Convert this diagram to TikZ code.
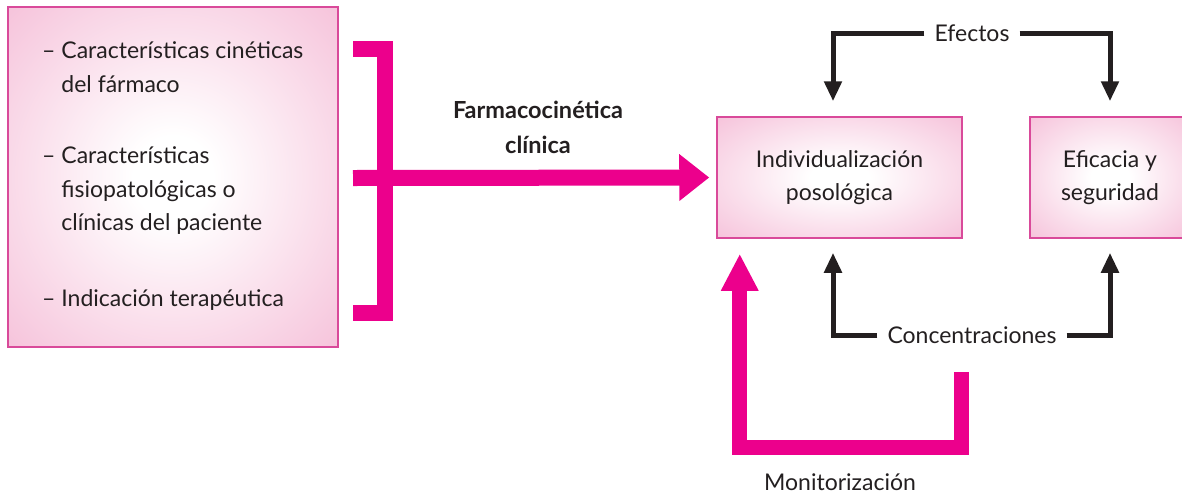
\documentclass[tikz,border=0pt]{standalone}
\usepackage{fontspec}
\setmainfont{Lato}
\usetikzlibrary{arrows.meta}
\definecolor{mag}{HTML}{EC008C}
\definecolor{boxpink}{HTML}{F4B6D3}
\definecolor{boxline}{HTML}{D94A9A}
\definecolor{ink}{HTML}{231F20}
\pgfdeclareradialshading{pinkglow}{\pgfpoint{0bp}{0bp}}{color(0bp)=(white);color(6bp)=(white);color(42bp)=(boxpink);color(70bp)=(boxpink)}
\begin{document}
\begin{tikzpicture}[x=1pt,y=-1pt,
  box/.style={draw=boxline,line width=1.5pt,shading=pinkglow,rectangle,inner sep=0pt,
    align=center,font=\fontsize{23}{33}\selectfont,text=ink},
  itemtxt/.style={align=left,font=\fontsize{23}{33.5}\selectfont,text=ink,inner sep=0pt,anchor=west},
  lbl/.style={font=\fontsize{23}{26}\selectfont,text=ink,inner xsep=10pt,inner ysep=2pt},
  magline/.style={draw=mag,line width=16pt,line join=miter},
  blkarrow/.style={draw=ink,line width=5pt,line join=miter,-{Triangle[width=17pt,length=20pt]}},
]
\clip (0,0) rectangle (1182,496);
\fill[white] (0,0) rectangle (1182,496);
% left box
\node[box,minimum width=330pt,minimum height=340pt] (src) at (173,177) {};
\node[itemtxt] (i1) at (42,67) {–~Características cinéticas\\\hphantom{–~}del fármaco};
\node[itemtxt] (i2) at (42,191) {–~Características\\\hphantom{–~}fisiopatológicas o\\\hphantom{–~}clínicas del paciente};
\node[itemtxt] (i3) at (42,300) {–~Indicación terapéutica};
% right boxes
\node[box,minimum width=245pt,minimum height=121pt] (mid) at (839.5,177.5) {Individualización\\posológica};
\node[box,minimum width=160pt,minimum height=121pt] (eff) at (1110,177.5) {Eficacia y\\seguridad};
% bracket and main arrow
\coordinate (bt) at (353,48.5);
\coordinate (bb) at (353,312.5);
\coordinate (bm) at (353,178);
\draw[magline] (bt) -- (384.5,48.5) |- (bb);
\draw[magline,-{Triangle[width=45pt,length=30pt]},shorten >=7pt] (bm) -- (mid.west);
\node[font=\bfseries\fontsize{23.5}{35}\selectfont,align=center,text=ink] (fk) at (538,127) {Farmacocinética\\clínica};
% effects
\node[lbl] (efl) at (972,33) {Efectos};
\draw[blkarrow] (efl.west) -| ([xshift=-6.5pt,yshift=15pt]mid.north);
\draw[blkarrow] (efl.east) -| ([yshift=15pt]eff.north);
% concentrations
\node[lbl] (conc) at (972,335) {Concentraciones};
\draw[blkarrow] (conc.west) -| ([xshift=-6.5pt,yshift=-14pt]mid.south);
\draw[blkarrow] (conc.east) -| ([yshift=-14pt]eff.south);
% monitoring
\coordinate (m1) at (961.5,372);
\draw[magline,line width=15pt,-{Triangle[width=35pt,length=37pt]}] (m1) -- ++(0,75) -| ([xshift=23.5pt,yshift=-15pt]mid.south west);
\node[lbl] (monl) at (840,482) {Monitorización};
\end{tikzpicture}
\end{document}
